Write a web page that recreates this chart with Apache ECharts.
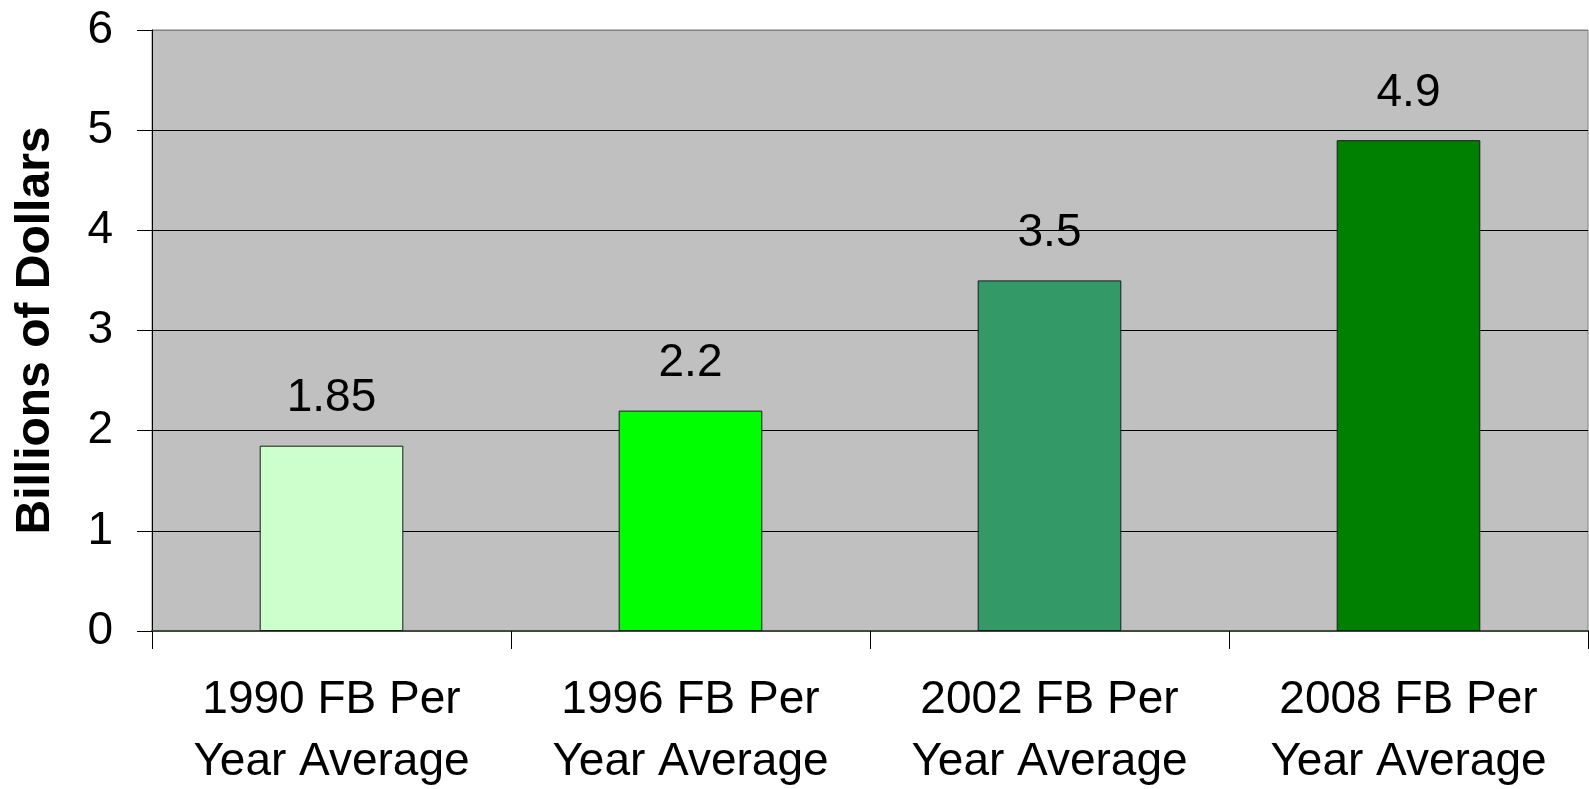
<!DOCTYPE html>
<html>
<head>
<meta charset="utf-8">
<title>FB Per Year Average</title>
<script src="https://cdn.jsdelivr.net/npm/echarts@6/dist/echarts.min.js"></script>
<style>
  html, body { margin: 0; padding: 0; background: #fff; }
  #chart { width: 1589px; height: 789px; }
</style>
</head>
<body>
<div id="chart"></div>
<script>
  const categories = ['1990 FB Per\nYear Average', '1996 FB Per\nYear Average', '2002 FB Per\nYear Average', '2008 FB Per\nYear Average'];
  const values = [1.85, 2.2, 3.5, 4.9];
  const barColors = ['#CCFFCC', '#00FF00', '#339966', '#008000'];
  const yTicks = [0, 1, 2, 3, 4, 5, 6];

  const font = 'Liberation Sans, Arial, sans-serif';
  const chart = echarts.init(document.getElementById('chart'));

  const option = {
    backgroundColor: '#ffffff',
    animation: false,
    grid: {
      left: 152,
      right: 1,
      top: 30,
      bottom: 158,
      outerBoundsMode: 'none',
      containLabel: false,
      show: true,
      backgroundColor: '#C0C0C0',
      borderColor: '#808080',
      borderWidth: 1,
    },
    xAxis: {
      type: 'category',
      data: categories,
      axisLine: { show: true, lineStyle: { color: '#3f4a3f', width: 2 } },
      axisTick: { show: true, interval: 0, length: 18, lineStyle: { color: '#000' } },
      axisLabel: {
        interval: 0,
        color: '#000',
        fontFamily: font,
        fontSize: 46,
        lineHeight: 62,
        margin: 38,
      },
    },
    yAxis: {
      type: 'value',
      min: yTicks[0],
      max: yTicks[yTicks.length - 1],
      interval: 1,
      name: 'Billions of Dollars',
      nameLocation: 'middle',
      nameGap: 92,
      nameTextStyle: {
        color: '#000',
        fontFamily: font,
        fontSize: 48,
        fontWeight: 'bold',
      },
      axisLine: { show: true, lineStyle: { color: '#000', width: 1 } },
      axisTick: { show: true, length: 15, lineStyle: { color: '#000' } },
      axisLabel: {
        color: '#000',
        fontFamily: font,
        fontSize: 46,
        margin: 39,
      },
      splitLine: {
        show: true,
        lineStyle: {
          color: ['#000', '#000', '#000', '#000', '#000', '#000', '#808080'],
          width: 1,
        },
      },
    },
    series: [
      {
        type: 'bar',
        barWidth: '40%',
        data: values.map((v, i) => ({
          value: v,
          itemStyle: { color: barColors[i] },
        })),
        itemStyle: { borderColor: '#1a1a1a', borderWidth: 1 },
        label: {
          show: true,
          position: 'top',
          distance: 24,
          color: '#000',
          fontFamily: font,
          fontSize: 46,
        },
      },
    ],
  };

  chart.setOption(option);
</script>
</body>
</html>
